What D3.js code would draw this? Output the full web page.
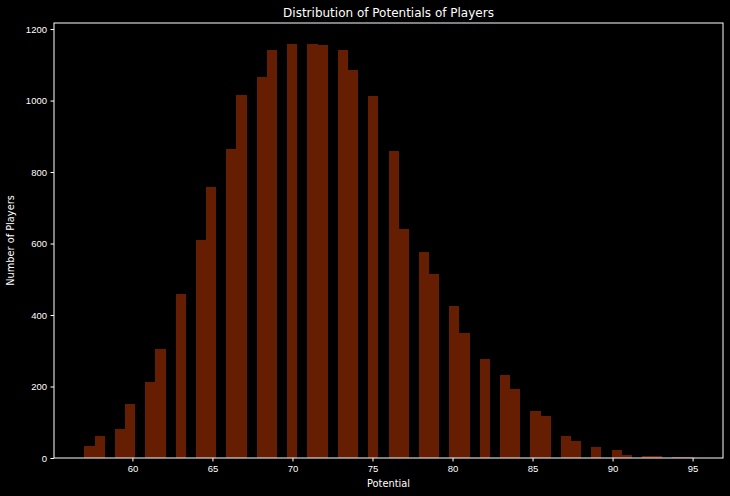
<!DOCTYPE html>
<html lang="en">
<head>
<meta charset="utf-8">
<title>Distribution of Potentials of Players</title>
<style>
  body { margin: 0; background: #000; }
  svg { display: block; font-family: "DejaVu Sans", sans-serif; }
  .axis text { fill: #fff; font-size: 9.5px; }
  .axis line, .axis path { stroke: #fff; }
  .bar { fill: #661e02; shape-rendering: crispEdges; }
</style>
</head>
<body>
<div id="chart"></div>
<script src="https://cdn.jsdelivr.net/npm/d3@7"></script>
<script>
// potential values (integers) and how many players have each
var potentials = [57, 58, 59, 60, 61, 62, 63, 64, 65, 66, 67, 68, 69, 70, 71, 72, 73, 74, 75, 76,
                  77, 78, 79, 80, 81, 82, 83, 84, 85, 86, 87, 88, 89, 90, 91, 92, 93, 94, 95];
var counts = [34, 62, 82, 152, 213, 306, 460, 611, 759, 865, 1016, 1066, 1142, 1159, 1159, 1156, 1142, 1086, 1013, 860,
              641, 577, 515, 426, 350, 278, 233, 194, 132, 118, 62, 48, 32, 23, 8, 6, 6, 3, 3];
var xTicks = [60, 65, 70, 75, 80, 85, 90, 95];
var yTicks = [0, 200, 400, 600, 800, 1000, 1200];
var nBins = 60;

var W = 730, H = 496;
var margin = {top: 23, right: 7, bottom: 38, left: 54};
var width = W - margin.left - margin.right,
    height = H - margin.top - margin.bottom;

var lo = d3.min(potentials), hi = d3.max(potentials);
var step = (hi - lo) / nBins;
var pad = (hi - lo) * 0.05;

var x = d3.scaleLinear().domain([lo - pad, hi + pad]).range([0, width]);
var y = d3.scaleLinear().domain([0, d3.max(counts) * 1.05]).range([height, 0]);

// put each value into its histogram bin
var thresholds = d3.range(1, nBins).map(function(i) { return lo + i * step; });
var bins = d3.bin().domain([lo, hi]).thresholds(thresholds)(potentials);
var binCount = bins.map(function(b) {
  return d3.sum(b, function(v) { return counts[potentials.indexOf(v)]; });
});

var svg = d3.select("#chart").append("svg")
    .attr("width", W)
    .attr("height", H);

svg.append("rect").attr("width", W).attr("height", H).attr("fill", "#000");

var g = svg.append("g")
    .attr("transform", "translate(" + margin.left + "," + margin.top + ")");

g.selectAll(".bar")
    .data(bins)
  .enter().append("rect")
    .attr("class", "bar")
    .attr("x", function(d) { return x(d.x0); })
    .attr("width", function(d) { return x(d.x1) - x(d.x0); })
    .attr("y", function(d, i) { return y(binCount[i]); })
    .attr("height", function(d, i) { return height - y(binCount[i]); });

var xAxis = d3.axisBottom(x).tickValues(xTicks).tickSize(3.5).tickPadding(3.5);
var yAxis = d3.axisLeft(y).tickValues(yTicks).tickFormat(d3.format("d")).tickSize(3.5).tickPadding(3.5);

g.append("g")
    .attr("class", "axis axis--x")
    .attr("transform", "translate(0," + height + ")")
    .call(xAxis)
    .select(".domain").remove();

g.append("g")
    .attr("class", "axis axis--y")
    .call(yAxis)
    .select(".domain").remove();

// frame
g.append("rect")
    .attr("width", width)
    .attr("height", height)
    .attr("fill", "none")
    .attr("stroke", "#fff")
    .attr("stroke-width", 1);

svg.append("text")
    .attr("x", margin.left + width / 2)
    .attr("y", 17)
    .attr("text-anchor", "middle")
    .attr("fill", "#fff")
    .style("font-size", "12px")
    .text("Distribution of Potentials of Players");

svg.append("text")
    .attr("x", margin.left + width / 2)
    .attr("y", 487)
    .attr("text-anchor", "middle")
    .attr("fill", "#fff")
    .style("font-size", "9.8px")
    .text("Potential");

svg.append("text")
    .attr("transform", "translate(14," + (margin.top + height / 2) + ") rotate(-90)")
    .attr("text-anchor", "middle")
    .attr("fill", "#fff")
    .style("font-size", "9.8px")
    .text("Number of Players");
</script>
</body>
</html>
